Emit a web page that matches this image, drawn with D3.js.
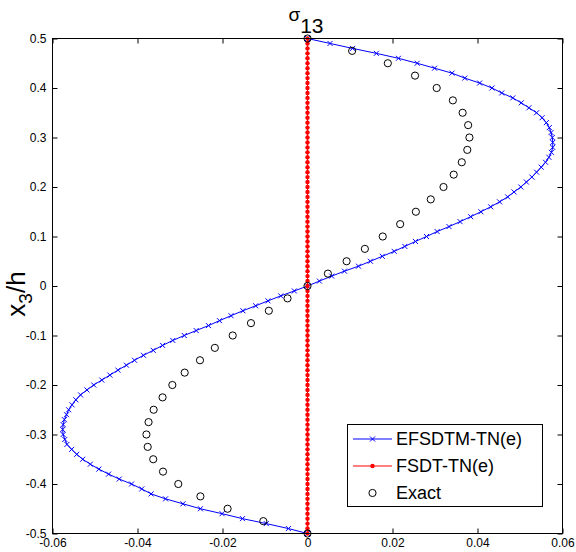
<!DOCTYPE html>
<html><head><meta charset="utf-8">
<script src="https://cdn.jsdelivr.net/npm/d3@7"></script>
<style>body{margin:0;background:#fff}svg{display:block}</style>
</head><body>
<svg id="c" width="576" height="552"></svg>
<script>
// ---- data ----
const zGrid = [0.50,0.49,0.48,0.47,0.46,0.45,0.44,0.43,0.42,0.41,0.40,0.39,0.38,0.37,0.36,0.35,0.34,0.33,0.32,0.31,
  0.30,0.29,0.28,0.27,0.26,0.25,0.24,0.23,0.22,0.21,0.20,0.19,0.18,0.17,0.16,0.15,0.14,0.13,0.12,0.11,
  0.10,0.09,0.08,0.07,0.06,0.05,0.04,0.03,0.02,0.01,0.00,
  -0.01,-0.02,-0.03,-0.04,-0.05,-0.06,-0.07,-0.08,-0.09,-0.10,-0.11,-0.12,-0.13,-0.14,-0.15,-0.16,-0.17,-0.18,-0.19,-0.20,
  -0.21,-0.22,-0.23,-0.24,-0.25,-0.26,-0.27,-0.28,-0.29,-0.30,-0.31,-0.32,-0.33,-0.34,-0.35,-0.36,-0.37,-0.38,-0.39,-0.40,
  -0.41,-0.42,-0.43,-0.44,-0.45,-0.46,-0.47,-0.48,-0.49,-0.50];
const efsdtm = [0,0.0053,0.0106,0.0162,0.0214,0.0258,0.0299,0.0340,0.0370,0.0405,0.0434,0.0457,0.0483,0.0503,0.0521,0.0539,0.0552,0.0562,0.0569,0.0573,
  0.0576,0.0577,0.0577,0.0574,0.0568,0.0560,0.0550,0.0539,0.0528,0.0515,0.0502,0.0486,0.0471,0.0452,0.0431,0.0408,0.0384,0.0359,0.0333,0.0305,
  0.0280,0.0254,0.0229,0.0204,0.0176,0.0148,0.0120,0.0087,0.0057,0.0028,0,
  -0.0031,-0.0063,-0.0093,-0.0122,-0.0152,-0.0180,-0.0207,-0.0233,-0.0262,-0.0290,-0.0317,-0.0341,-0.0363,-0.0386,-0.0407,-0.0426,-0.0446,-0.0465,-0.0484,-0.0503,
  -0.0519,-0.0534,-0.0545,-0.0554,-0.0562,-0.0567,-0.0572,-0.0575,-0.0576,-0.0575,-0.0571,-0.0566,-0.0555,-0.0543,-0.0529,-0.0511,-0.0491,-0.0468,-0.0443,-0.0414,
  -0.0390,-0.0368,-0.0334,-0.0293,-0.0252,-0.0201,-0.0153,-0.0097,-0.0045,0];
const fsdt = [0,0,0,0,0,0,0,0,0,0,0,0,0,0,0,0,0,0,0,0,0,0,0,0,0,0,0,0,0,0,0,0,0,0,0,0,0,0,0,0,0,0,0,0,0,0,0,0,0,0,0,
  0,0,0,0,0,0,0,0,0,0,0,0,0,0,0,0,0,0,0,0,0,0,0,0,0,0,0,0,0,0,0,0,0,0,0,0,0,0,0,0,0,0,0,0,0,0,0,0,0,0];
const exactZ = [0.5,0.475,0.45,0.425,0.4,0.375,0.35,0.325,0.3,0.275,0.25,0.225,0.2,0.175,0.15,0.125,0.1,0.075,0.05,0.025,0,
  -0.025,-0.05,-0.075,-0.1,-0.125,-0.15,-0.175,-0.2,-0.225,-0.25,-0.275,-0.3,-0.325,-0.35,-0.375,-0.4,-0.425,-0.45,-0.475,-0.5];
const exactX = [0,0.0105,0.0189,0.0253,0.0304,0.0342,0.0365,0.0378,0.0381,0.0376,0.0363,0.0344,0.0320,0.0290,0.0255,0.0218,0.0177,0.0135,0.0092,0.0048,0,
  -0.0047,-0.0091,-0.0133,-0.0176,-0.0218,-0.0253,-0.0289,-0.0318,-0.0341,-0.0362,-0.0374,-0.0379,-0.0376,-0.0363,-0.0340,-0.0304,-0.0252,-0.0188,-0.0104,0];
const xTickVals = [-0.06,-0.04,-0.02,0,0.02,0.04,0.06];
const xTickLabels = ["-0.06","-0.04","-0.02","0","0.02","0.04","0.06"];
const yTickVals = [0.5,0.4,0.3,0.2,0.1,0,-0.1,-0.2,-0.3,-0.4,-0.5];
const yTickLabels = ["0.5","0.4","0.3","0.2","0.1","0","-0.1","-0.2","-0.3","-0.4","-0.5"];
const seriesNames = ["EFSDTM-TN(e)","FSDT-TN(e)","Exact"];

// ---- chart ----
const FONT = "'Liberation Sans', Arial, Helvetica, sans-serif";
const L = 52.5, R = 562.5, T = 38.5, B = 533.5;
const svg = d3.select("#c");
svg.append("rect").attr("width",576).attr("height",552).attr("fill","#fff");
const x = d3.scaleLinear().domain([-0.06,0.06]).range([L,R]);
const y = d3.scaleLinear().domain([-0.5,0.5]).range([B,T]);

svg.append("rect").attr("x",L).attr("y",T).attr("width",R-L).attr("height",B-T)
  .attr("fill","#fff");

function styleAxis(g){
  g.select(".domain").remove();
  g.selectAll(".tick line").attr("stroke","#000");
  g.selectAll(".tick text").attr("fill","#000").style("font-family",FONT).style("font-size","12px");
}
svg.append("g").attr("transform",`translate(0,${B})`)
  .call(d3.axisBottom(x).tickValues(xTickVals).tickFormat((d,i)=>xTickLabels[i]).tickSize(-5).tickPadding(5))
  .call(styleAxis);
svg.append("g").attr("transform",`translate(${L},0)`)
  .call(d3.axisLeft(y).tickValues(yTickVals).tickFormat((d,i)=>yTickLabels[i]).tickSize(-5).tickPadding(6))
  .call(styleAxis);
svg.append("g").attr("transform",`translate(0,${T})`)
  .call(d3.axisTop(x).tickValues(xTickVals).tickFormat("").tickSize(-5)).call(styleAxis);
svg.append("g").attr("transform",`translate(${R},0)`)
  .call(d3.axisRight(y).tickValues(yTickVals).tickFormat("").tickSize(-5)).call(styleAxis);

const plot = svg.append("g");
const line = d3.line().x(d=>x(d[0])).y(d=>y(d[1]));
const blueData = zGrid.map((z,i)=>[efsdtm[i],z]);
const redData = zGrid.map((z,i)=>[fsdt[i],z]);
const exactData = exactZ.map((z,i)=>[exactX[i],z]);

const xMark = "M-2.5,-2.5L2.5,2.5M-2.5,2.5L2.5,-2.5";
plot.append("path").datum(blueData).attr("d",line).attr("fill","none").attr("stroke","#0000ff").attr("stroke-width",1);
plot.selectAll("path.bm").data(blueData).join("path").attr("class","bm")
  .attr("transform",d=>`translate(${x(d[0])},${y(d[1])})`).attr("d",xMark)
  .attr("stroke","#0000ff").attr("stroke-width",1).attr("fill","none");

plot.append("path").datum(redData).attr("d",line).attr("fill","none").attr("stroke","#ff0000").attr("stroke-width",1);
plot.selectAll("circle.rm").data(redData).join("circle").attr("class","rm")
  .attr("cx",d=>x(d[0])).attr("cy",d=>y(d[1])).attr("r",2.2).attr("fill","#ff0000");

plot.selectAll("circle.em").data(exactData).join("circle").attr("class","em")
  .attr("cx",d=>x(d[0])).attr("cy",d=>y(d[1])).attr("r",3.6)
  .attr("fill","none").attr("stroke","#000").attr("stroke-width",1);

// border
svg.append("rect").attr("x",L).attr("y",T).attr("width",R-L).attr("height",B-T)
  .attr("fill","none").attr("stroke","#000").attr("stroke-width",1);

// title
const title = svg.append("text").attr("x",306).attr("y",21).attr("text-anchor","middle")
  .style("font-family",FONT).attr("fill","#000");
title.append("tspan").style("font-size","19px").text("σ");
title.append("tspan").attr("dy",12).style("font-size","21px").text("13");

// y label
const yl = svg.append("text").attr("transform","translate(25,294) rotate(-90)").attr("text-anchor","middle")
  .style("font-family",FONT).style("font-size","26px").attr("fill","#000");
yl.append("tspan").text("x");
yl.append("tspan").attr("dy",7).style("font-size","19px").text("3");
yl.append("tspan").attr("dy",-7).text("/h");

// legend
const lg = svg.append("g");
lg.append("rect").attr("x",347.5).attr("y",424.5).attr("width",195).attr("height",82)
  .attr("fill","#fff").attr("stroke","#000").attr("stroke-width",1);
const rows = [439,466,493];
// row 1
lg.append("line").attr("x1",353).attr("x2",392).attr("y1",rows[0]).attr("y2",rows[0]).attr("stroke","#0000ff");
lg.append("path").attr("transform",`translate(372.5,${rows[0]})`).attr("d",xMark).attr("stroke","#0000ff").attr("fill","none");
// row 2
lg.append("line").attr("x1",353).attr("x2",392).attr("y1",rows[1]).attr("y2",rows[1]).attr("stroke","#ff0000");
lg.append("circle").attr("cx",372.5).attr("cy",rows[1]).attr("r",2.2).attr("fill","#ff0000");
// row 3
lg.append("circle").attr("cx",372.5).attr("cy",rows[2]).attr("r",3.6).attr("fill","none").attr("stroke","#000");
seriesNames.forEach((n,i)=>{
  lg.append("text").attr("x",396).attr("y",rows[i]).attr("dy","0.36em")
    .style("font-family",FONT).style("font-size","18px").attr("fill","#000").text(n);
});
</script>
</body></html>
